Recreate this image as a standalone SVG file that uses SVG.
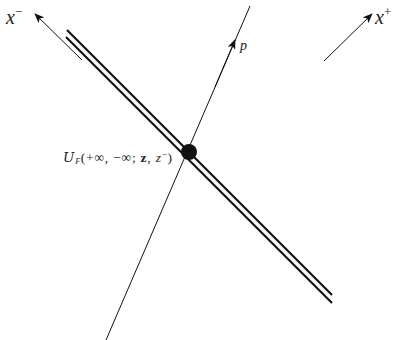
<svg xmlns="http://www.w3.org/2000/svg" width="396" height="340" viewBox="0 0 396 340">
<style>
.thick{stroke:#111;stroke-width:2.2;fill:none}
.thin{stroke:#111;stroke-width:1;fill:none}
.lbl{font-family:'Liberation Serif','DejaVu Serif',serif;fill:#222}
.it{font-style:italic}
</style>
<defs>
<marker id="ah" viewBox="0 0 10 8" refX="9" refY="4" markerWidth="10" markerHeight="8" markerUnits="userSpaceOnUse" orient="auto">
<path d="M0,0 L10,4 L0,8 L2.5,4 Z" fill="#111"/>
</marker>
</defs>
<rect width="396" height="340" fill="#fff"/>
<g id="connectors">
<line class="thick" x1="67" y1="30" x2="332" y2="295"/>
<line class="thick" x1="66" y1="37" x2="332" y2="303"/>
<line class="thin" x1="106" y1="340" x2="250" y2="6"/>
<path class="thin" d="M215,87 L235,40" marker-end="url(#ah)"/>
<line class="thin" x1="82" y1="60" x2="35" y2="14" marker-end="url(#ah)"/>
<line class="thin" x1="324" y1="61" x2="372" y2="14" marker-end="url(#ah)"/>
</g>
<g id="vertex">
<circle cx="189" cy="152" r="8" fill="#111"/>
</g>
<g id="label-U">
<text class="lbl" x="63" y="162" font-size="13.5" textLength="109" lengthAdjust="spacing"><tspan class="it" font-family="'DejaVu Serif',serif">U</tspan><tspan class="it" font-size="8" dy="2">F</tspan><tspan dy="-2">(+∞, −∞; </tspan><tspan font-weight="bold">z</tspan><tspan>, </tspan><tspan class="it">z</tspan><tspan font-size="9" dy="-5">−</tspan><tspan dy="5">)</tspan></text>
</g>
<g id="label-xminus">
<text class="lbl" x="6" y="24" font-size="20"><tspan class="it">x</tspan><tspan font-size="13" dy="-8">−</tspan></text>
</g>
<g id="label-xplus">
<text class="lbl" x="375" y="24" font-size="20"><tspan class="it">x</tspan><tspan font-size="13" dy="-8">+</tspan></text>
</g>
<g id="label-p">
<text class="lbl it" x="240" y="50" font-size="14">p</text>
</g>
</svg>
